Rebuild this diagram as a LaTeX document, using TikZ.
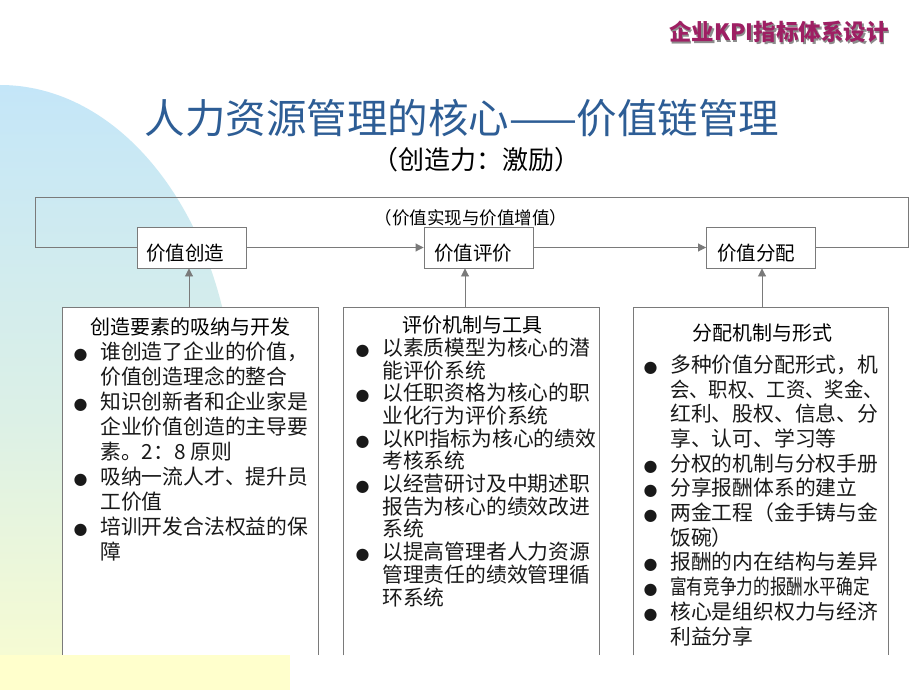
\documentclass[tikz,border=0pt]{standalone}
\usepackage{fontspec}
\newfontfamily\cjk{Noto Sans CJK SC}
\newfontfamily\dejavu{DejaVu Sans}
\usetikzlibrary{arrows.meta}
\definecolor{bgblue}{HTML}{C4E6F8}
\definecolor{bgyellow}{HTML}{FFFFCC}
\definecolor{titleblue}{HTML}{2D5D95}
\definecolor{headmag}{HTML}{9E1F63}
\definecolor{linegray}{HTML}{7A7A7A}
\newcommand{\bu}{\makebox[26.5pt][l]{\dejavu\fontsize{16}{16}\selectfont ●}}
\newcommand{\ind}{\hspace*{26.5pt}}
\tikzset{
  boxline/.style={draw=linegray, line width=0.9pt},
  conn/.style={draw=linegray, line width=0.9pt},
  tri/.style={-{Triangle[length=8pt,width=8pt]}},
  topbox/.style={boxline, fill=white, minimum width=109pt, minimum height=41pt, inner sep=0pt},
  toptext/.style={font={\cjk\fontsize{19.5}{19.5}\selectfont}, inner sep=0pt},
  lowbox/.style={fill=white, minimum height=348pt, inner sep=0pt, anchor=north west},
  lowtitle/.style={font={\cjk\fontsize{20}{20}\selectfont}, inner sep=0pt},
  listtext/.style={font={\cjk\fontsize{20.8}{25}\selectfont}, align=left, inner sep=0pt, anchor=north west, text=black!90},
}
\begin{document}
\begin{tikzpicture}[x=1pt,y=-1pt]
\useasboundingbox (0,0) rectangle (920,690);
\fill[white] (0,0) rectangle (920,690);
% background shape
\begin{scope}
  \clip (0,0) rectangle (920,690);
  \shade[top color=bgblue, bottom color=bgyellow, middle color=bgblue!60!bgyellow] (0,415) ellipse (235pt and 330pt);
\end{scope}
% header
\node[font={\cjk\bfseries\fontsize{22.5}{22.5}\selectfont}, text=black!45, inner sep=0pt] (hdshadow) at (780.5,33.5) {企业KPI指标体系设计};
\node[font={\cjk\bfseries\fontsize{22.5}{22.5}\selectfont}, text=headmag, inner sep=0pt] (hd) at (779,32) {企业KPI指标体系设计};
% titles
\node[font={\cjk\fontsize{40.5}{40.5}\selectfont}, text=titleblue, inner sep=0pt] (title) at (462,118) {人力资源管理的核心——价值链管理};
\node[font={\cjk\fontsize{26}{26}\selectfont}, inner sep=0pt] (sub) at (476,160) {（创造力：激励）};
\node[font={\cjk\fontsize{17.5}{17.5}\selectfont}, inner sep=0pt] (loop) at (471,218) {（价值实现与价值增值）};
% top boxes
\node[topbox] (v1) at (191.5,247.5) {};
\node[topbox] (v2) at (478.5,247.5) {};
\node[topbox] (v3) at (761,247.5) {};
\node[toptext] (v1t) at (185,253) {价值创造};
\node[toptext] (v2t) at (473,253) {价值评价};
\node[toptext] (v3t) at (756,253) {价值分配};
% loop connector
\coordinate (c1) at (908,247.5);
\coordinate (c2) at (908,197);
\coordinate (c3) at (35,197);
\coordinate (c4) at (35,247.5);
\draw[conn] (v3.east) -- (c1) -- (c2) -- (c3) -- (c4) -- (v1.west);
\draw[conn,tri] (v1.east) -- (v2.west);
\draw[conn,tri] (v2.east) -- (v3.west);
% lower boxes
\node[lowbox, minimum width=256pt] (ba) at (62,307) {};
\node[lowbox, minimum width=256pt] (bb) at (343,307) {};
\node[lowbox, minimum width=255pt] (bc) at (633,307) {};
\draw[boxline] (ba.south west) -- (ba.north west) -- (ba.north east) -- (ba.south east);
\draw[boxline] (bb.south west) -- (bb.north west) -- (bb.north east) -- (bb.south east);
\draw[boxline] (bc.south west) -- (bc.north west) -- (bc.north east) -- (bc.south east);
% vertical arrows
\coordinate (x1) at (189,0);
\coordinate (x2) at (465,0);
\coordinate (x3) at (762,0);
\draw[conn,tri] (x1 |- ba.north) -- (x1 |- v1.south);
\draw[conn,tri] (x2 |- bb.north) -- (x2 |- v2.south);
\draw[conn,tri] (x3 |- bc.north) -- (x3 |- v3.south);
% bottom yellow band
\fill[bgyellow] (0,655) rectangle (290,690);
% box A
\node[lowtitle] (tA) at (190,327) {创造要素的吸纳与开发};
\node[listtext] (lA) at (73.5,341.6) {%
\bu 谁创造了企业的价值，\\
\ind 价值创造理念的整合\\
\bu 知识创新者和企业家是\\
\ind 企业价值创造的主导要\\
\ind 素。2：8 原则\\
\bu 吸纳一流人才、提升员\\
\ind 工价值\\
\bu 培训开发合法权益的保\\
\ind 障};
% box B
\node[lowtitle] (tB) at (472,325) {评价机制与工具};
\node[listtext, font={\cjk\fontsize{20.8}{22.7}\selectfont}] (lB) at (355.5,337.6) {%
\bu 以素质模型为核心的潜\\
\ind 能评价系统\\
\bu 以任职资格为核心的职\\
\ind 业化行为评价系统\\
\bu 以\scalebox{0.82}[1]{KPI}指标为核心的绩效\\
\ind 考核系统\\
\bu 以经营研讨及中期述职\\
\ind 报告为核心的绩效改进\\
\ind 系统\\
\bu 以提高管理者人力资源\\
\ind 管理责任的绩效管理循\\
\ind 环系统};
% box C
\node[lowtitle] (tC) at (762,333) {分配机制与形式};
\node[listtext, font={\cjk\fontsize{20.8}{24.7}\selectfont}] (lC) at (643.5,354.6) {%
\bu 多种价值分配形式，机\\
\ind \scalebox{0.93}[1]{会、职权、工资、奖金、}\\
\ind 红利、股权、信息、分\\
\ind 享、认可、学习等\\
\bu 分权的机制与分权手册\\
\bu 分享报酬体系的建立\\
\bu 两金工程（金手铸与金\\
\ind 饭碗）\\
\bu 报酬的内在结构与差异\\
\bu \scalebox{0.8}[1]{富有竞争力的报酬水平确定}\\
\bu 核心是组织权力与经济\\
\ind 利益分享};
\end{tikzpicture}
\end{document}
